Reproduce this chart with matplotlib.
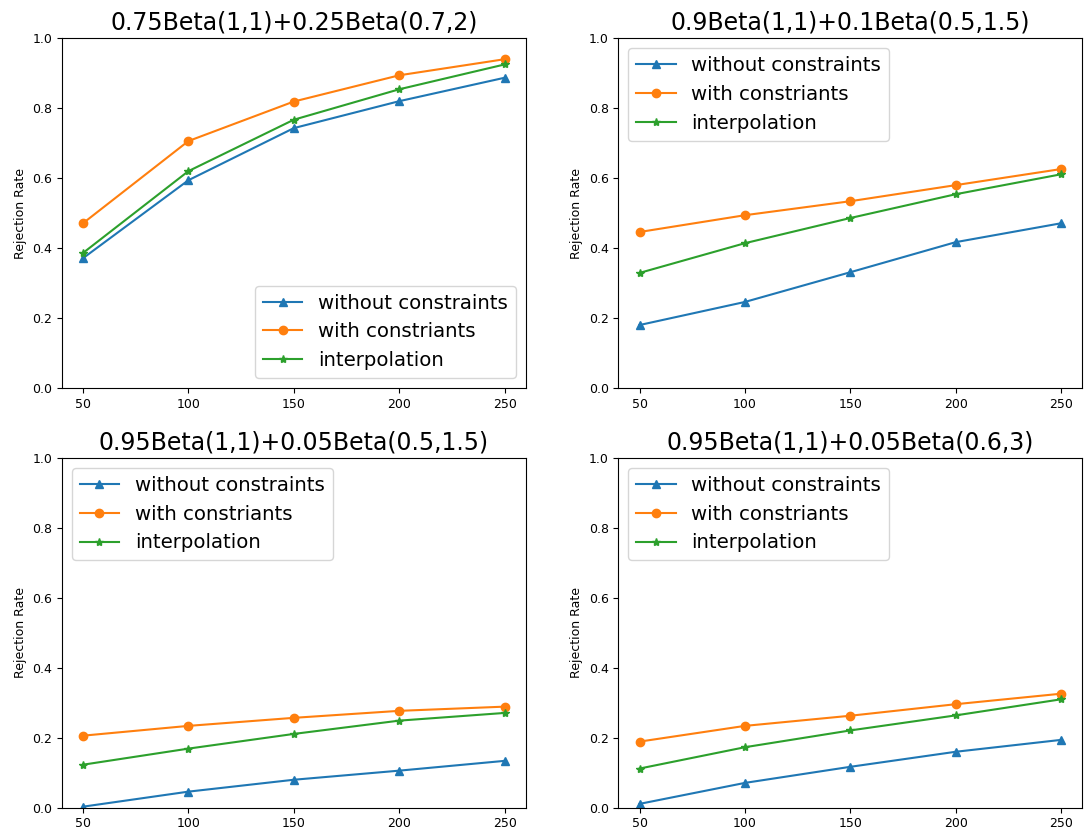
import matplotlib
matplotlib.use('Agg')
import matplotlib.pyplot as plt

sizes = [50, 100, 150, 200, 250]

titles = ['0.75Beta(1,1)+0.25Beta(0.7,2)',
          '0.9Beta(1,1)+0.1Beta(0.5,1.5)',
          '0.95Beta(1,1)+0.05Beta(0.5,1.5)',
          '0.95Beta(1,1)+0.05Beta(0.6,3)']

# rejection rates per panel
no_cons = [[0.371, 0.594, 0.743, 0.820, 0.887],
           [0.180, 0.246, 0.331, 0.417, 0.471],
           [0.003, 0.046, 0.080, 0.106, 0.134],
           [0.011, 0.071, 0.117, 0.160, 0.194]]
with_cons = [[0.471, 0.706, 0.819, 0.894, 0.940],
             [0.446, 0.494, 0.534, 0.580, 0.626],
             [0.206, 0.234, 0.257, 0.277, 0.289],
             [0.189, 0.234, 0.263, 0.296, 0.326]]
interp = [[0.386, 0.620, 0.767, 0.854, 0.925],
          [0.329, 0.414, 0.486, 0.554, 0.611],
          [0.123, 0.169, 0.211, 0.249, 0.271],
          [0.112, 0.173, 0.221, 0.264, 0.310]]

legend_loc = ['lower right', 'upper left', 'upper left', 'upper left']

fig, axes = plt.subplots(2, 2, figsize=(10.86, 8.31), dpi=100)
fig.subplots_adjust(left=0.057, right=0.9965, top=0.954, bottom=0.028,
                    wspace=0.2, hspace=0.2)

for i, ax in enumerate(axes.flat):
    ax.plot(sizes, no_cons[i], marker='^', label='without constraints')
    ax.plot(sizes, with_cons[i], marker='o', label='with constriants')
    ax.plot(sizes, interp[i], marker='*', label='interpolation')
    ax.set_ylim(0, 1)
    ax.set_xticks(sizes)
    ax.tick_params(labelsize=9)
    ax.set_ylabel('Rejection Rate', fontsize=9)
    ax.set_title(titles[i], fontsize=17, pad=6)
    ax.legend(loc=legend_loc[i], fontsize=14.2, labelspacing=0.5)

plt.savefig('out.png')
